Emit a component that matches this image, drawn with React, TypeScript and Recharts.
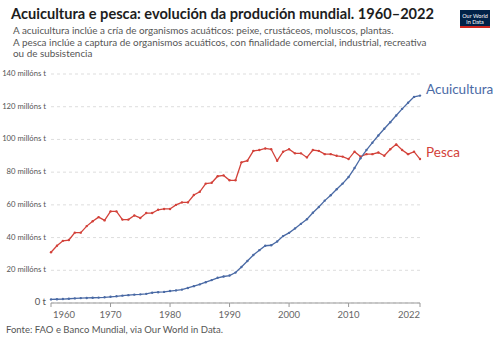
import React from 'react';
import { LineChart, Line, XAxis, YAxis, CartesianGrid } from 'recharts';

const years: number[] = Array.from({ length: 63 }, (_, i) => 1960 + i);

// millóns de toneladas
const acuicultura = [
    2.2, 2.3, 2.4, 2.6, 2.8, 3.0, 3.1, 3.2, 3.3, 3.5,
    3.8, 4.1, 4.5, 4.8, 5.1, 5.3, 5.6, 6.3, 6.6, 6.8,
    7.3, 7.7, 8.2, 9.2, 10.3, 11.4, 12.7, 14.0, 15.4, 16.2,
    16.8, 18.6, 22.0, 25.7, 29.3, 32.3, 35.0, 35.3, 37.6, 40.9,
    42.9, 45.6, 48.4, 51.2, 55.2, 58.7, 62.6, 65.9, 69.5, 73.0,
    77.0, 82.5, 88.5, 93.5, 98.0, 102.4, 106.5, 110.5, 114.6, 118.7,
    122.4, 126.0, 126.8,
];

const pesca = [
    31, 35, 38, 38.5, 43, 43, 47, 50, 52.5, 50.5,
    56, 56, 51, 51, 53.5, 52, 55, 55, 57, 57.5,
    57.5, 60, 61.5, 61.5, 66, 68, 73, 73.5, 77.5, 78,
    75, 75, 86, 87, 93, 93.5, 94.5, 94, 87, 92.5,
    94, 91.5, 91.5, 89, 93.5, 93, 91, 91, 90, 89.5,
    88, 92.5, 89.5, 91, 91, 92, 90, 94, 97, 93.5,
    91, 92.5, 88,
];

const xTicks = [1960, 1970, 1980, 1990, 2000, 2010, 2022];
const yTicks = [0, 20, 40, 60, 80, 100, 120, 140];

const data = years.map((year, i) => ({ year, acuicultura: acuicultura[i], pesca: pesca[i] }));

const BLUE = '#4a6aa5';
const RED = '#d3423a';
const FONT = 'Lato, "Noto Sans", sans-serif';

const XTick = (props: any) => {
    const { x, y, payload } = props;
    const v = payload.value;
    const anchor = v === 1960 ? 'start' : v === 2022 ? 'end' : 'middle';
    const dx = v === 1960 ? 2 : 0;
    return (
        <text x={x + dx} y={y + 9} textAnchor={anchor} fill="#666" fontSize={9.5} fontFamily={FONT}>
            {v}
        </text>
    );
};

const YTick = (props: any) => {
    const { x, y, payload } = props;
    const v = payload.value;
    return (
        <text x={x - 3} y={y} textAnchor="end" dominantBaseline="middle" fill="#555" fontSize={v === 0 ? 9.5 : 7.7} fontFamily={FONT}>
            {v === 0 ? '0 t' : `${v} millóns t`}
        </text>
    );
};

const endLabel = (name: string, color: string) => (props: any) => {
    const { x, y, index } = props;
    if (index !== data.length - 1) return null;
    return (
        <text key={name} x={x + 6} y={y - 5} dominantBaseline="middle" fill={color} fontSize={13.5} fontFamily={FONT}>
            {name}
        </text>
    );
};

export default function App() {
    return (
        <div style={{ position: 'absolute', left: 0, top: 0, width: 500, height: 342, background: '#fff', fontFamily: FONT, overflow: 'hidden' }}>
            <div style={{ position: 'absolute', left: 11, top: 5, fontSize: 14.6, fontWeight: 700, color: '#1d1d1d', whiteSpace: 'nowrap' }}>
                Acuicultura e pesca: evolución da produción mundial. 1960–2022
            </div>
            <div style={{ position: 'absolute', left: 13, top: 25, fontSize: 9.9, lineHeight: '11.5px', color: '#555', width: 450, whiteSpace: 'nowrap' }}>
                A acuicultura inclúe a cría de organismos acuáticos: peixe, crustáceos, moluscos, plantas.<br />
                A pesca inclúe a captura de organismos acuáticos, con finalidade comercial, industrial, recreativa<br />
                ou de subsistencia
            </div>
            <div style={{ position: 'absolute', left: 460, top: 10, width: 30, height: 18, background: '#002147', borderBottom: '2px solid #ce261e', color: '#fff', fontSize: 5.5, lineHeight: '6px', textAlign: 'center', paddingTop: 3, boxSizing: 'border-box' }}>
                Our World<br />in Data
            </div>
            <div style={{ position: 'absolute', left: 0, top: 0 }}>
                <LineChart width={500} height={342} data={data} margin={{ top: 74, right: 80, bottom: 19, left: 0 }}>
                    <CartesianGrid vertical={false} stroke="#ddd" strokeDasharray="3 3" />
                    <XAxis
                        dataKey="year"
                        type="number"
                        domain={[1960, 2022]}
                        ticks={xTicks}
                        height={20}
                        stroke="#999"
                        tickSize={4}
                        tick={<XTick />}
                        interval={0}
                    />
                    <YAxis
                        domain={[0, 140]}
                        ticks={yTicks}
                        width={51}
                        axisLine={false}
                        tickLine={false}
                        tickSize={0}
                        tick={<YTick />}
                        interval={0}
                    />
                    <Line
                        dataKey="pesca"
                        stroke={RED}
                        strokeWidth={1.3}
                        dot={{ r: 1.2, fill: RED, stroke: 'none' }}
                        isAnimationActive={false}
                        label={endLabel('Pesca', RED)}
                    />
                    <Line
                        dataKey="acuicultura"
                        stroke={BLUE}
                        strokeWidth={1.3}
                        dot={{ r: 1.2, fill: BLUE, stroke: 'none' }}
                        isAnimationActive={false}
                        label={endLabel('Acuicultura', BLUE)}
                    />
                </LineChart>
            </div>
            <div style={{ position: 'absolute', left: 6, top: 324, fontSize: 9.5, color: '#555', whiteSpace: 'nowrap' }}>
                Fonte: FAO e Banco Mundial, via Our World in Data.
            </div>
        </div>
    );
}
